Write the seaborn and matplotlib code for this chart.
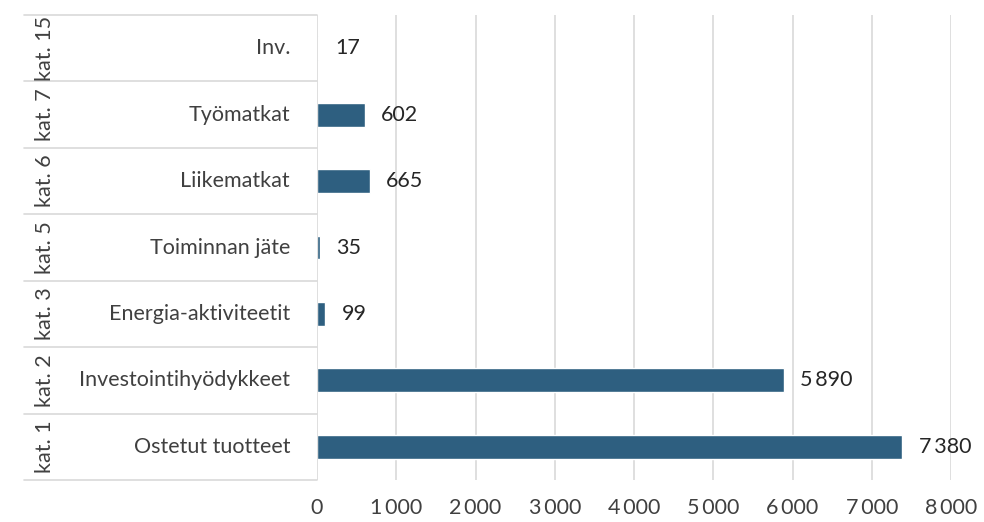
import numpy as np
import pandas as pd
import matplotlib
matplotlib.use("Agg")
import matplotlib.pyplot as plt
import matplotlib.transforms as mtransforms
import seaborn as sns

# data, top to bottom
groups = ["kat. 15", "kat. 7", "kat. 6", "kat. 5", "kat. 3", "kat. 2", "kat. 1"]
names = ["Inv.", "Työmatkat", "Liikematkat", "Toiminnan jäte",
         "Energia-aktiviteetit", "Investointihyödykkeet", "Ostetut tuotteet"]
values = [17, 602, 665, 35, 99, 5890, 7380]
xticks = [0, 1000, 2000, 3000, 4000, 5000, 6000, 7000, 8000]

df = pd.DataFrame({"name": names, "value": values})

sns.set_theme(style="white")
plt.rcParams["font.family"] = ["Lato", "DejaVu Sans"]

bar_col = "#2e5f80"
grid_col = "#d9d9d9"
txt_col = "#404040"

def fmt(v):
    return f"{v:,}".replace(",", "\u2009")

fig = plt.figure(figsize=(9.84, 5.22), dpi=100)
ax = fig.add_axes([317/984, 1-480/522, 634/984, 465/522])

sns.barplot(data=df, x="value", y="name", orient="h", color=bar_col,
            width=0.36, saturation=1, ax=ax)

ax.set_xlim(0, 8000)
ax.set_ylim(len(names)-0.5, -0.5)
ax.set_xticks(xticks)
ax.set_xticklabels([fmt(t) for t in xticks], fontsize=15.5, color=txt_col)
ax.tick_params(axis="x", length=0, pad=13)
ax.set_yticks([])
ax.set_xlabel("")
ax.set_ylabel("")
for s in ax.spines.values():
    s.set_visible(False)

# vertical grid
for t in xticks[1:]:
    ax.axvline(t, color=grid_col, lw=1.2, zorder=0)
ax.axvline(0, color=grid_col, lw=1.2, zorder=3)

# value labels
for i, v in enumerate(values):
    ax.text(v + 210, i, fmt(v), va="center", ha="left",
            fontsize=15.5, color="#262626")

# table on the left
tr = mtransforms.blended_transform_factory(ax.transAxes, ax.transData)
x_left = (24 - 317) / 634
for k in range(len(names) + 1):
    ax.plot([x_left, 0], [k - 0.5, k - 0.5], color=grid_col, lw=1.2,
            transform=tr, clip_on=False)
for i, (g, n) in enumerate(zip(groups, names)):
    ax.text((290 - 317) / 634, i, n, ha="right", va="center", fontsize=15.5,
            color=txt_col, transform=tr)
    ax.text((45 - 317) / 634, i, g, ha="center", va="center", rotation=90,
            fontsize=15.5, color=txt_col, transform=tr)

fig.savefig("out.png", dpi=100, facecolor="white")
